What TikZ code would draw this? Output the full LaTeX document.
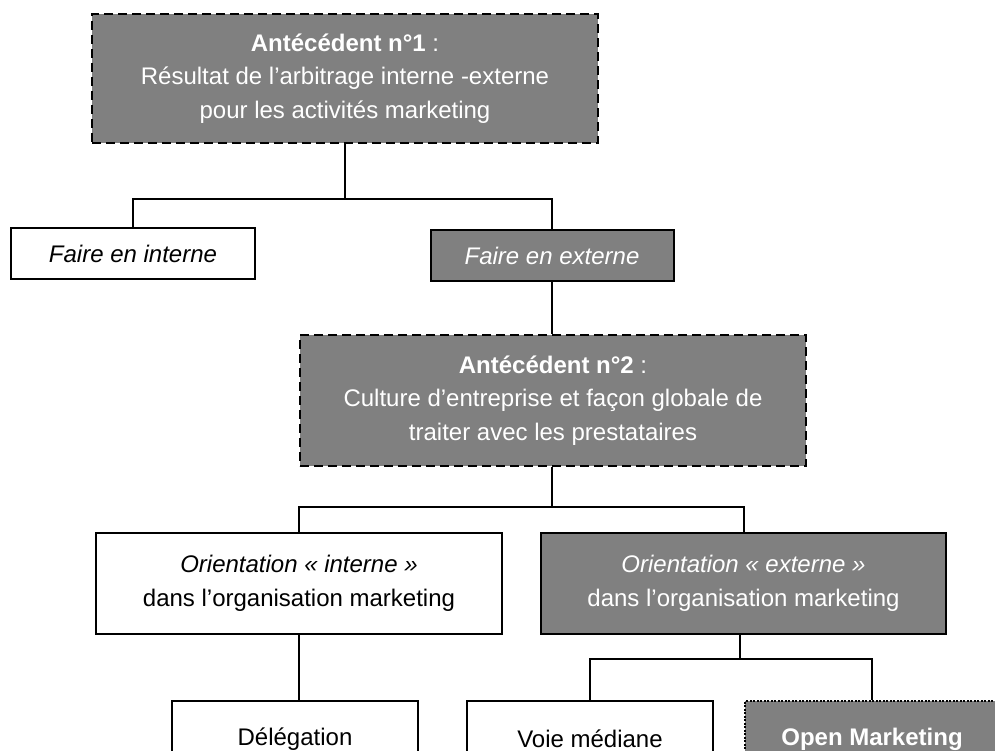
\documentclass[tikz,border=0pt]{standalone}
\usepackage{fontspec}
\setmainfont{Liberation Sans}
\definecolor{boxgray}{RGB}{128,128,128}
\begin{document}
\begin{tikzpicture}[x=1pt,y=-1pt,
  base/.style={draw=black, line width=2pt, inner sep=0pt, align=center,
    font=\fontsize{24}{33.5}\selectfont},
  whitebox/.style={base, fill=white, text=black},
  graybox/.style={base, fill=boxgray, text=white},
  antebox/.style={graybox, dash pattern=on 9pt off 5pt},
  openbox/.style={graybox, line width=2.5pt, dash pattern=on 2pt off 1.5pt},
  link/.style={draw=black, line width=2pt}]
\useasboundingbox (0,0) rectangle (995,751);
\clip (0,0) rectangle (995,751);
\fill[white] (0,0) rectangle (995,751);

\node[antebox, minimum width=506, minimum height=129] (a1) at (345,78.5)
  {{\bfseries Antécédent n°1} :\\Résultat de l’arbitrage interne -externe\\pour les activités marketing};
\node[whitebox, minimum width=244, minimum height=51] (fi) at (133,253.5) {\itshape Faire en interne};
\node[graybox, minimum width=243, minimum height=51] (fe) at (552,255.5) {\itshape Faire en externe};
\node[antebox, minimum width=506, minimum height=131] (a2) at (553,400.5)
  {{\bfseries Antécédent n°2} :\\Culture d’entreprise et façon globale de\\traiter avec les prestataires};
\node[whitebox, minimum width=406, minimum height=101] (oi) at (299,583.5)
  {\itshape Orientation « interne »\\dans l’organisation marketing};
\node[graybox, minimum width=405, minimum height=101] (oe) at (743.5,583.5)
  {\itshape Orientation « externe »\\dans l’organisation marketing};
\node[whitebox, minimum width=246, minimum height=76] (del) at (295,739) {Délégation};
\node[whitebox, minimum width=246, minimum height=76] (vm) at (590,739) {Voie médiane};
\node[openbox, minimum width=254, minimum height=76] (om) at (872,739) {\bfseries Open Marketing};

\coordinate (j1) at (345,199);
\coordinate (j2) at (552,507);
\coordinate (j3) at (740,659);

\draw[link] (a1.south) -- (j1);
\draw[link] (fi.north) |- (j1) -| (fe.north);
\draw[link] (fe.south) -- (fe.south |- a2.north);
\draw[link] (j2 |- a2.south) -- (j2);
\draw[link] (oi.north) |- (j2) -| (oe.north);
\draw[link] (oi.south) -- (oi.south |- del.north);
\draw[link] (oe.south -| j3) -- (j3);
\draw[link] (vm.north) |- (j3) -| (om.north);
\end{tikzpicture}
\end{document}
